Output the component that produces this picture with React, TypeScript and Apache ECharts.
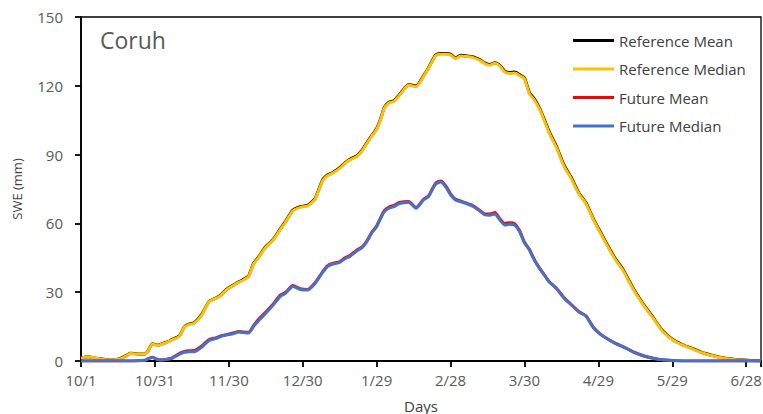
import React, { useEffect, useRef } from "react";
import * as echarts from "echarts";

const days = [0, 3, 6, 10, 13, 16, 19, 20, 23, 26, 27, 29, 31, 33, 35, 37, 40, 42, 44, 46, 49, 52, 55, 57, 59, 62, 64, 66, 68, 70, 72, 75, 78, 81, 83, 86, 89, 92, 95, 98, 100, 102, 105, 107, 109, 112, 114, 116, 118, 120, 122, 123, 125, 127, 129, 131, 133, 136, 139, 141, 142, 144, 146, 148, 150, 152, 154, 156, 159, 162, 164, 166, 168, 170, 172, 174, 176, 178, 180, 182, 184, 186, 188, 190, 193, 196, 199, 202, 205, 208, 211, 214, 217, 220, 224, 228, 232, 236, 240, 244, 248, 252, 256, 260, 264, 268, 272, 276];

const referenceMedian = [1.2, 1.8, 1.2, 0.6, 0.5, 1.0, 2.6, 3.3, 3.0, 3.0, 4.0, 7.4, 6.8, 7.4, 8.2, 9.2, 10.8, 14.8, 16.0, 16.5, 20.0, 25.8, 27.4, 28.8, 31.0, 33.0, 34.3, 35.3, 36.8, 42.2, 45.0, 49.6, 52.8, 57.5, 60.5, 65.5, 67.0, 67.6, 70.5, 78.5, 80.8, 81.8, 84.0, 86.0, 87.6, 89.2, 91.5, 94.8, 98.0, 101.0, 106.5, 110.0, 112.5, 113.2, 115.5, 118.2, 120.3, 119.6, 124.0, 127.5, 129.5, 133.2, 133.8, 133.8, 133.5, 131.8, 133.0, 132.8, 132.4, 131.0, 129.6, 129.0, 129.8, 128.6, 126.0, 125.4, 125.6, 124.5, 123.0, 116.5, 113.8, 110.0, 105.0, 99.5, 93.0, 85.0, 79.5, 73.0, 68.5, 61.5, 55.5, 49.5, 44.0, 39.5, 31.5, 24.8, 19.0, 13.0, 9.3, 7.0, 5.3, 3.6, 2.4, 1.4, 0.8, 0.4, 0.2, 0.1];

const referenceMean = [1.3, 1.9, 1.2, 0.7, 0.5, 1.1, 2.7, 3.4, 3.1, 3.1, 4.1, 7.5, 6.9, 7.5, 8.3, 9.4, 11.0, 15.0, 16.2, 16.7, 20.3, 26.0, 27.6, 29.0, 31.2, 33.2, 34.5, 35.6, 37.0, 42.5, 45.3, 49.9, 53.0, 57.8, 60.8, 65.8, 67.3, 67.9, 70.8, 78.8, 81.1, 82.1, 84.3, 86.3, 87.9, 89.5, 91.8, 95.1, 98.3, 101.3, 106.8, 110.3, 112.8, 113.5, 115.8, 118.5, 120.6, 119.9, 124.3, 127.8, 129.8, 133.5, 134.1, 134.1, 133.8, 132.1, 133.3, 133.1, 132.7, 131.3, 129.9, 129.3, 130.1, 128.9, 126.4, 125.8, 126.0, 124.9, 123.4, 117.0, 114.3, 110.5, 105.5, 100.0, 93.5, 85.5, 80.0, 73.4, 68.9, 61.9, 55.9, 49.9, 44.4, 39.9, 31.9, 25.1, 19.3, 13.3, 9.5, 7.2, 5.5, 3.7, 2.5, 1.5, 0.9, 0.5, 0.2, 0.1];

const futureMedian = [0, 0, 0, 0, 0, 0, 0, 0, 0.1, 0.3, 0.8, 1.5, 0.6, 0.4, 0.7, 1.2, 3.0, 3.8, 4.0, 4.0, 6.0, 9.0, 9.9, 10.8, 11.3, 12.0, 12.6, 12.4, 12.2, 15.0, 17.5, 20.8, 24.4, 28.3, 29.5, 32.5, 31.2, 31.0, 33.8, 38.5, 41.2, 42.2, 43.0, 44.5, 45.5, 48.0, 49.3, 52.0, 55.8, 58.6, 63.0, 65.0, 66.6, 67.3, 68.5, 69.0, 69.2, 66.6, 70.2, 71.6, 73.5, 77.2, 78.0, 76.0, 72.5, 70.2, 69.5, 68.8, 67.5, 65.3, 63.7, 63.6, 64.0, 61.5, 59.3, 59.6, 59.3, 56.5, 51.5, 48.4, 44.0, 40.5, 37.5, 34.5, 31.5, 27.5, 24.5, 21.5, 19.5, 14.5, 11.5, 9.4, 7.6, 6.2, 4.0, 2.3, 1.2, 0.5, 0.2, 0.05, 0, 0, 0, 0, 0, 0, 0, 0];

const futureMean = [0, 0, 0, 0, 0, 0, 0, 0, 0.1, 0.3, 0.9, 1.6, 0.7, 0.5, 0.8, 1.4, 3.3, 4.2, 4.5, 4.6, 6.6, 9.4, 10.2, 11.0, 11.5, 12.3, 12.9, 12.6, 12.5, 15.4, 18.1, 21.4, 24.9, 28.8, 29.9, 32.9, 31.5, 31.2, 34.1, 38.8, 41.5, 42.5, 43.3, 44.9, 45.9, 48.4, 49.7, 52.3, 56.1, 58.9, 63.4, 65.4, 67.1, 67.9, 69.0, 69.4, 69.5, 66.9, 70.5, 71.9, 73.8, 77.6, 78.5, 76.5, 72.9, 70.5, 69.8, 69.0, 67.8, 65.6, 64.1, 64.1, 64.7, 62.0, 60.0, 60.3, 59.9, 56.9, 51.8, 48.7, 44.2, 40.7, 37.7, 34.7, 31.7, 27.7, 24.6, 21.6, 19.6, 14.6, 11.6, 9.5, 7.7, 6.3, 4.1, 2.4, 1.3, 0.5, 0.2, 0.05, 0, 0, 0, 0, 0, 0, 0, 0];

const tickLabels = ["10/1", "10/31", "11/30", "12/30", "1/29", "2/28", "3/30", "4/29", "5/29", "6/28"];

const seriesNames = ["Reference Mean", "Reference Median", "Future Mean", "Future Median"];
const seriesColors = ["#000000", "#FFC000", "#FF0000", "#4472C4"];
const seriesValues = [referenceMean, referenceMedian, futureMean, futureMedian];

export default function App() {
  const ref = useRef<HTMLDivElement>(null);
  useEffect(() => {
    document.body.style.margin = "0";
    const chart = echarts.init(ref.current!, undefined, { renderer: "svg" });
    const font = "'Open Sans', sans-serif";
    chart.setOption({
      animation: false,
      backgroundColor: "#ffffff",
      textStyle: { fontFamily: font },
      title: {
        text: "Coruh",
        left: 95,
        top: 23,
        textStyle: { fontSize: 23, fontWeight: "normal", color: "#595959", fontFamily: font },
      },
      legend: {
        orient: "vertical",
        left: 568,
        top: 28,
        itemGap: 13.5,
        itemWidth: 41,
        itemHeight: 3,
        icon: "rect",
        data: seriesNames,
        textStyle: { fontSize: 15, color: "#404040", fontFamily: font },
      },
      grid: {
        left: 81,
        right: 2,
        top: 17,
        bottom: 53,
        containLabel: false,
        outerBoundsMode: "none",
        show: true,
        borderColor: "#000000",
        borderWidth: 1.3,
      },
      xAxis: {
        type: "value",
        min: 0,
        max: 276,
        interval: 30,
        name: "Days",
        nameLocation: "middle",
        nameGap: 37,
        nameTextStyle: { fontSize: 15, color: "#404040", fontFamily: font },
        axisLine: { lineStyle: { color: "#000000", width: 1.8 } },
        axisTick: { show: true, length: 6, lineStyle: { color: "#000000", width: 1.8 } },
        splitLine: { show: false },
        axisLabel: {
          fontSize: 15,
          color: "#595959",
          margin: 11,
          fontFamily: font,
          formatter: (v: number) => (v % 30 === 0 ? tickLabels[v / 30] ?? "" : ""),
        },
      },
      yAxis: {
        type: "value",
        min: 0,
        max: 150,
        interval: 30,
        name: "SWE (mm)",
        nameLocation: "middle",
        nameGap: 58,
        nameTextStyle: { fontSize: 13, color: "#404040", fontFamily: font },
        axisLine: { show: true, lineStyle: { color: "#000000", width: 1.8 } },
        axisTick: { show: true, length: 6, lineStyle: { color: "#000000", width: 1.8 } },
        splitLine: { show: false },
        axisLabel: { fontSize: 15, color: "#595959", margin: 18, fontFamily: font },
      },
      series: seriesNames.map((name, i) => ({
        name,
        type: "line",
        symbol: "none",
        smooth: 0.2,
        color: seriesColors[i],
        lineStyle: { color: seriesColors[i], width: 3 },
        data: days.map((d, j) => [d, seriesValues[i][j]]),
        z: i + 2,
      })),
    });
    return () => chart.dispose();
  }, []);
  return <div ref={ref} style={{ width: 763, height: 414 }} />;
}
